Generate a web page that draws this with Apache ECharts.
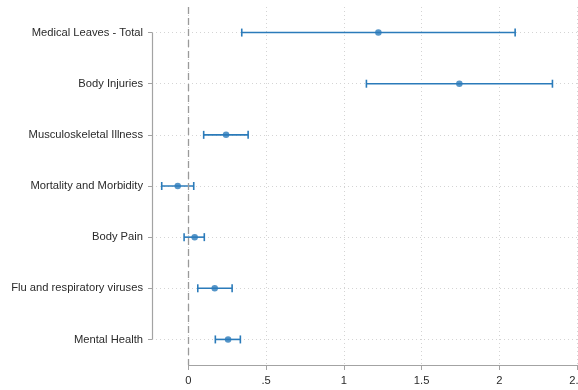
<!DOCTYPE html>
<html><head><meta charset="utf-8">
<script src="https://cdn.jsdelivr.net/npm/echarts@6/dist/echarts.min.js"></script>
<style>html,body{margin:0;padding:0;background:#fff}#c{width:578px;height:390px}</style>
</head><body><div id="c"></div>
<script>
const categories = ["Medical Leaves - Total","Body Injuries","Musculoskeletal Illness","Mortality and Morbidity","Body Pain","Flu and respiratory viruses","Mental Health"];
const estimates = [1.222, 1.743, 0.242, -0.069, 0.040, 0.169, 0.255];
const lowerCI = [0.343, 1.145, 0.098, -0.172, -0.028, 0.060, 0.173];
const upperCI = [2.102, 2.342, 0.384, 0.034, 0.102, 0.281, 0.334];
const xTicks = [0, 0.5, 1, 1.5, 2, 2.5];
const xTickLabels = ["0", ".5", "1", "1.5", "2", "2.5"];
const xMin = -0.2345, xMax = 2.5;

const color = '#2b7bba';
const axisColor = '#a3a3a3';
const textColor = '#2a2a2a';
const yPos = categories.map((c, i) => i + 1);

const chart = echarts.init(document.getElementById('c'), null, {renderer: 'canvas'});
chart.setOption({
  animation: false,
  grid: {left: 152, right: 1, top: 7, bottom: 25, containLabel: false, outerBoundsMode: 'none'},
  xAxis: {
    type: 'value', min: xMin, max: xMax,
    axisLine: {show: false, onZero: false},
    axisTick: {show: true, customValues: xTicks, length: 5, lineStyle: {color: axisColor, width: 1}},
    axisLabel: {customValues: xTicks, formatter: v => xTickLabels[xTicks.indexOf(v)] ?? String(v),
      color: textColor, fontFamily: 'Liberation Sans, Arial', fontSize: 11.2, margin: 10,
      alignMinLabel: 'center', alignMaxLabel: 'center', hideOverlap: false},
    splitLine: {show: true, lineStyle: {color: '#d4d4d4', type: [1, 3], width: 1}}
  },
  yAxis: {
    type: 'value', inverse: true, min: 0.5, max: 7.5,
    axisLine: {show: false, onZero: false},
    axisTick: {show: true, customValues: yPos, length: 4, lineStyle: {color: axisColor, width: 1}},
    axisLabel: {customValues: yPos, formatter: v => categories[v - 1] || '',
      color: textColor, fontFamily: 'Liberation Sans, Arial', fontSize: 11.2, margin: 9},
    splitLine: {show: true, lineStyle: {color: '#d4d4d4', type: [1, 3], width: 1}}
  },
  series: [
    {
      type: 'line', data: [], silent: true,
      markLine: {
        symbol: 'none', silent: true, animation: false, label: {show: false},
        data: [
          [{coord: [0, 0.5], lineStyle: {color: '#9a9a9a', type: [7, 4], width: 1.3}}, {coord: [0, 7.5]}],
          [{coord: [0, 7.5], lineStyle: {color: axisColor, type: 'solid', width: 1.2}}, {coord: [xMax, 7.5]}],
          [{coord: [xMin, 1], lineStyle: {color: axisColor, type: 'solid', width: 1.2}}, {coord: [xMin, 7]}]
        ]
      }
    },
    {
      type: 'custom',
      data: categories.map((c, i) => [lowerCI[i], upperCI[i], i + 1]),
      renderItem: function (params, api) {
        const p1 = api.coord([api.value(0), api.value(2)]);
        const p2 = api.coord([api.value(1), api.value(2)]);
        const h = 4;
        const st = {stroke: color, lineWidth: 1.6};
        return {type: 'group', children: [
          {type: 'line', shape: {x1: p1[0], y1: p1[1], x2: p2[0], y2: p2[1]}, style: st},
          {type: 'line', shape: {x1: p1[0], y1: p1[1] - h, x2: p1[0], y2: p1[1] + h}, style: st},
          {type: 'line', shape: {x1: p2[0], y1: p2[1] - h, x2: p2[0], y2: p2[1] + h}, style: st}
        ]};
      }
    },
    {
      type: 'scatter', symbol: 'circle', symbolSize: 6.5,
      itemStyle: {color: color},
      data: categories.map((c, i) => [estimates[i], i + 1]),
      z: 5
    }
  ]
});
</script></body></html>
